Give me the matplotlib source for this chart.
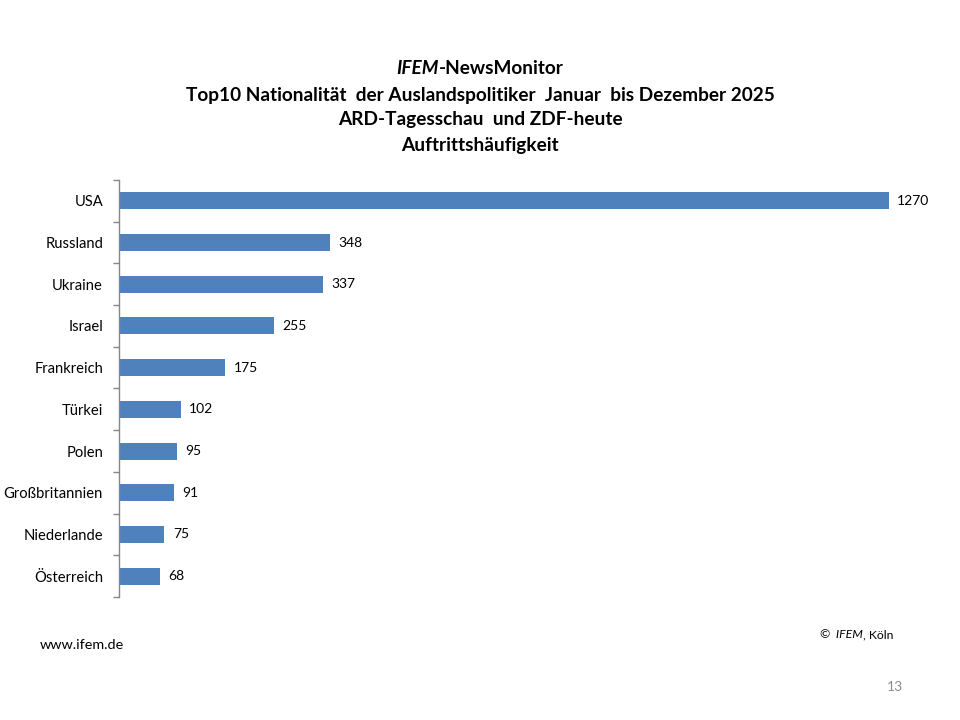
import matplotlib
matplotlib.use("Agg")
import matplotlib.pyplot as plt
import numpy as np

countries = ["USA", "Russland", "Ukraine", "Israel", "Frankreich", "Türkei",
             "Polen", "Großbritannien", "Niederlande", "Österreich"]
values = [1270, 348, 337, 255, 175, 102, 95, 91, 75, 68]

plt.rcParams['font.family'] = ['Lato', 'DejaVu Sans']

fig = plt.figure(figsize=(9.6, 7.2), dpi=100)
ax = fig.add_axes([119/960, 1-597/720, (889-119)/960, (597-180)/720])

y = np.arange(len(countries))
ax.barh(y, values, height=0.41, color="#4F81BD")
ax.set_ylim(len(countries)-0.5, -0.5)
ax.set_xlim(0, 1270)

for yi, v in zip(y, values):
    ax.annotate(str(v), (v, yi), xytext=(6, 0), textcoords="offset points",
                va="center", ha="left", fontsize=10, color="#000000",
                annotation_clip=False)

ax.set_yticks(y)
ax.set_yticklabels(countries, fontsize=10.6)
ax.tick_params(axis="y", which="major", length=0, pad=11.5)
ax.set_yticks(np.arange(-0.5, len(countries), 1.0), minor=True)
ax.tick_params(axis="y", which="minor", length=4, color="#868686", width=1)
ax.set_xticks([])
for s in ["top", "right", "bottom"]:
    ax.spines[s].set_visible(False)
ax.spines["left"].set_color("#868686")
ax.spines["left"].set_linewidth(1)

TS = 13.7
t1a = fig.text(480/960, 1-69/720, "IFEM", fontsize=TS, fontweight="bold",
               style="italic", ha="right", va="center")
t1b = fig.text(480/960, 1-69/720, "-NewsMonitor", fontsize=TS, fontweight="bold",
               ha="left", va="center")
fig.canvas.draw()
r = fig.canvas.get_renderer()
wa = t1a.get_window_extent(r).width
wb = t1b.get_window_extent(r).width
shift = (wa - wb) / 2 / 960
t1a.set_x(480/960 + shift)
t1b.set_x(480/960 + shift)

fig.text(480/960, 1-95/720, "Top10 Nationalität  der Auslandspolitiker  Januar  bis Dezember 2025",
         fontsize=TS, fontweight="bold", ha="center", va="center")
fig.text(480/960, 1-120/720, "ARD-Tagesschau  und ZDF-heute",
         fontsize=TS, fontweight="bold", ha="center", va="center")
fig.text(480/960, 1-146/720, "Auftrittshäufigkeit",
         fontsize=TS, fontweight="bold", ha="center", va="center")

fig.text(40/960, 1-645/720, "www.ifem.de", fontsize=10.4, ha="left", va="center")
c1 = fig.text(893/960, 1-635/720, ", Köln", fontsize=8.8, ha="right", va="center")
fig.canvas.draw()
wc = c1.get_window_extent(r).width
fig.text((893 - wc)/960, 1-635/720, "©  IFEM", fontsize=8.8, style="italic",
         ha="right", va="center")
fig.text(903/960, 1-687/720, "13", fontsize=10, color="#8C8C8C", ha="right", va="center")

fig.savefig("out.png", dpi=100)
